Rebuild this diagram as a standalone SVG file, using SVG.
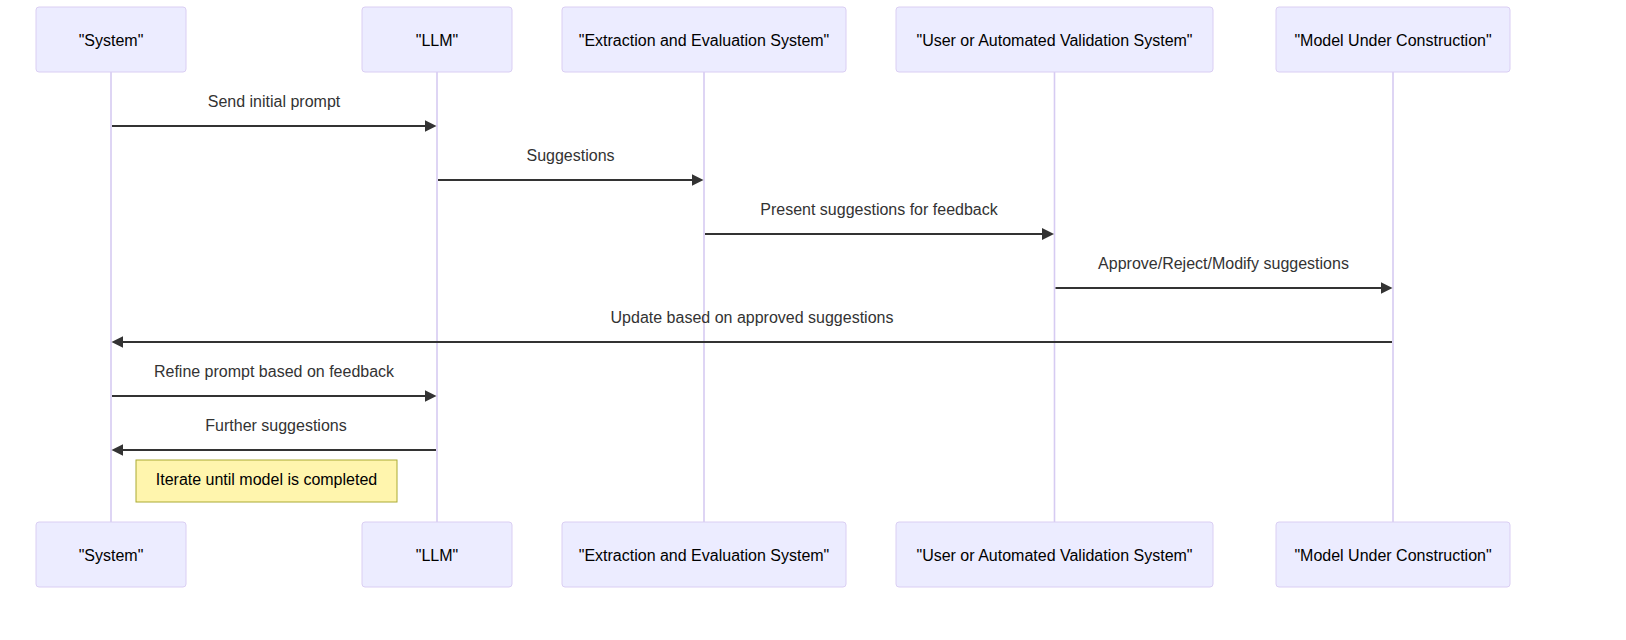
<svg xmlns="http://www.w3.org/2000/svg" width="1626" height="640" viewBox="0 0 1626 640">
<style>
.actor{fill:#ECECFF;stroke:#DACEF3;stroke-width:1}
.atext{font-family:"Liberation Sans",Arial,sans-serif;font-size:16px;fill:#000;text-anchor:middle}
.life{stroke:#D6CBF2;stroke-width:1.6;fill:none}
.msg{stroke:#333;stroke-width:2;fill:none}
.mtext{font-family:"Liberation Sans",Arial,sans-serif;font-size:16px;fill:#333;text-anchor:middle}
.note{fill:#FFF5AD;stroke:#AAAA33;stroke-width:1}
.ntext{font-family:"Liberation Sans",Arial,sans-serif;font-size:16px;fill:#000;text-anchor:middle}
</style>
<defs>
<marker id="arrow" viewBox="0 0 10 10" refX="7.9" refY="5" markerWidth="12" markerHeight="12" markerUnits="userSpaceOnUse" orient="auto">
<path d="M0,0 L10,5 L0,10 z" fill="#333"/>
</marker>
</defs>
<rect width="1626" height="640" fill="#fff"/>
<g id="lifelines">
<line class="life" x1="111" y1="72" x2="111" y2="522"/>
<line class="life" x1="437" y1="72" x2="437" y2="522"/>
<line class="life" x1="704" y1="72" x2="704" y2="522"/>
<line class="life" x1="1054.5" y1="72" x2="1054.5" y2="522"/>
<line class="life" x1="1393" y1="72" x2="1393" y2="522"/>
</g>
<g id="actor-system">
<rect class="actor" x="36" y="7" width="150" height="65" rx="3"/>
<text class="atext" x="111" y="45.5">"System"</text>
<rect class="actor" x="36" y="522" width="150" height="65" rx="3"/>
<text class="atext" x="111" y="560.5">"System"</text>
</g>
<g id="actor-llm">
<rect class="actor" x="362" y="7" width="150" height="65" rx="3"/>
<text class="atext" x="437" y="45.5">"LLM"</text>
<rect class="actor" x="362" y="522" width="150" height="65" rx="3"/>
<text class="atext" x="437" y="560.5">"LLM"</text>
</g>
<g id="actor-extraction">
<rect class="actor" x="562" y="7" width="284" height="65" rx="3"/>
<text class="atext" x="704" y="45.5">"Extraction and Evaluation System"</text>
<rect class="actor" x="562" y="522" width="284" height="65" rx="3"/>
<text class="atext" x="704" y="560.5">"Extraction and Evaluation System"</text>
</g>
<g id="actor-user">
<rect class="actor" x="896" y="7" width="317" height="65" rx="3"/>
<text class="atext" x="1054.5" y="45.5">"User or Automated Validation System"</text>
<rect class="actor" x="896" y="522" width="317" height="65" rx="3"/>
<text class="atext" x="1054.5" y="560.5">"User or Automated Validation System"</text>
</g>
<g id="actor-model">
<rect class="actor" x="1276" y="7" width="234" height="65" rx="3"/>
<text class="atext" x="1393" y="45.5">"Model Under Construction"</text>
<rect class="actor" x="1276" y="522" width="234" height="65" rx="3"/>
<text class="atext" x="1393" y="560.5">"Model Under Construction"</text>
</g>
<g id="connectors">
<line class="msg" x1="112" y1="126" x2="434" y2="126" marker-end="url(#arrow)"/>
<text class="mtext" x="274" y="107">Send initial prompt</text>
<line class="msg" x1="438" y1="180" x2="701" y2="180" marker-end="url(#arrow)"/>
<text class="mtext" x="570.5" y="161">Suggestions</text>
<line class="msg" x1="705" y1="234" x2="1051.5" y2="234" marker-end="url(#arrow)"/>
<text class="mtext" x="879" y="215">Present suggestions for feedback</text>
<line class="msg" x1="1055.5" y1="288" x2="1390" y2="288" marker-end="url(#arrow)"/>
<text class="mtext" x="1223.5" y="269">Approve/Reject/Modify suggestions</text>
<line class="msg" x1="1392" y1="342" x2="114" y2="342" marker-end="url(#arrow)"/>
<text class="mtext" x="752" y="323">Update based on approved suggestions</text>
<line class="msg" x1="112" y1="396" x2="434" y2="396" marker-end="url(#arrow)"/>
<text class="mtext" x="274" y="377">Refine prompt based on feedback</text>
<line class="msg" x1="436" y1="450" x2="114" y2="450" marker-end="url(#arrow)"/>
<text class="mtext" x="276" y="431">Further suggestions</text>
</g>
<g id="note-iterate">
<rect class="note" x="136" y="460" width="261" height="42"/>
<text class="ntext" x="266.5" y="485">Iterate until model is completed</text>
</g>
</svg>
